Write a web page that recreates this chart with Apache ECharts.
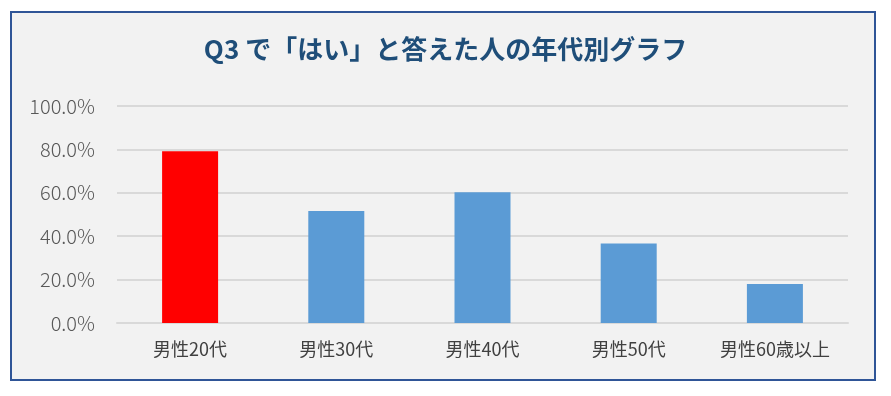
<!DOCTYPE html>
<html><head><meta charset="utf-8">
<script src="https://cdn.jsdelivr.net/npm/echarts@6/dist/echarts.min.js"></script>
<style>html,body{margin:0;padding:0;background:#fff;}#c{width:891px;height:396px;}</style>
</head><body><div id="c"></div>
<script>
const categories = ["男性20代", "男性30代", "男性40代", "男性50代", "男性60歳以上"];
const values = [79.2, 51.6, 60.3, 36.6, 18.0];
const barColors = ["#ff0000", "#5b9bd5", "#5b9bd5", "#5b9bd5", "#5b9bd5"];
const titleText = "Q3 で「はい」と答えた人の年代別グラフ";

const chart = echarts.init(document.getElementById('c'), null, {renderer: 'canvas'});
const font = '"Noto Sans CJK JP", "Noto Sans", sans-serif';
chart.setOption({
  animation: false,
  backgroundColor: '#ffffff',
  graphic: [{
    type: 'rect', z: -10, silent: true,
    shape: {x: 11, y: 12, width: 864, height: 368},
    style: {fill: '#f2f2f2', stroke: '#2f5597', lineWidth: 2}
  }],
  title: {
    text: titleText, left: 'center', top: 31,
    textStyle: {fontFamily: font, fontWeight: 'bold', fontSize: 26, color: '#1f4e79'}
  },
  grid: {left: 117, right: 43, top: 106, bottom: 73},
  xAxis: {
    type: 'category', data: categories,
    axisLine: {show: true, lineStyle: {color: '#d9d9d9', width: 2}},
    axisTick: {show: false},
    axisLabel: {fontFamily: font, fontSize: 18, color: '#404040', margin: 17}
  },
  yAxis: {
    type: 'value', min: 0, max: 100, interval: 20,
    axisLine: {show: false}, axisTick: {show: false},
    splitLine: {lineStyle: {color: '#d9d9d9', width: 2}},
    axisLabel: {fontFamily: font, fontSize: 20, fontWeight: 300, color: '#595959', margin: 22,
      formatter: v => v.toFixed(1) + '%'}
  },
  series: [{
    type: 'bar', barWidth: 56,
    data: values.map((v, i) => ({value: v, itemStyle: {color: barColors[i]}}))
  }]
});
</script></body></html>
